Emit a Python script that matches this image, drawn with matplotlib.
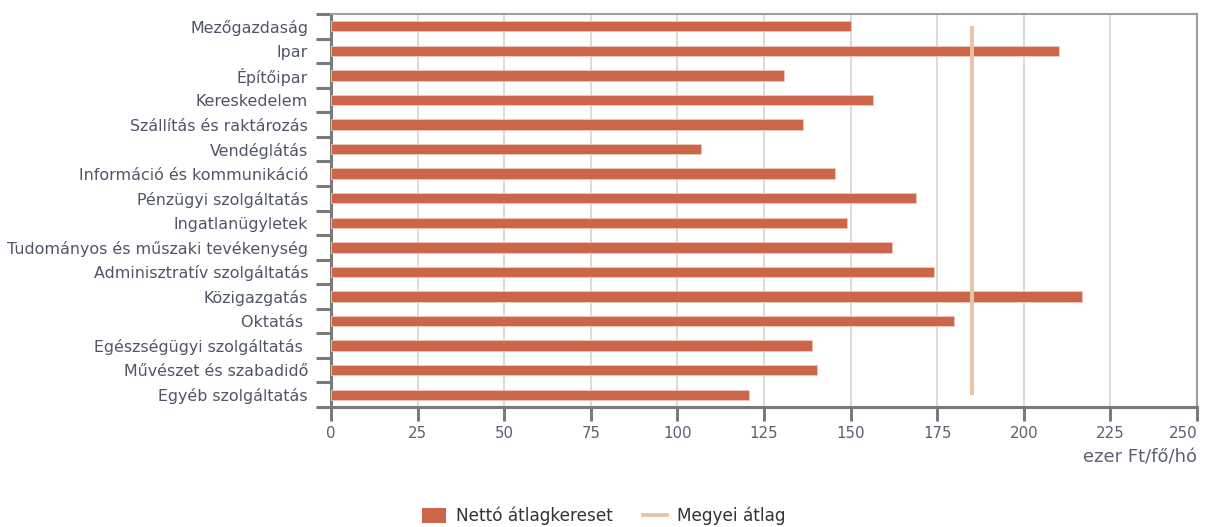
import matplotlib
matplotlib.use("Agg")
import matplotlib.pyplot as plt
from matplotlib.lines import Line2D
from matplotlib.patches import Patch
import numpy as np

categories = ["Mezőgazdaság", "Ipar", "Építőipar", "Kereskedelem",
              "Szállítás és raktározás", "Vendéglátás", "Információ és kommunikáció",
              "Pénzügyi szolgáltatás", "Ingatlanügyletek",
              "Tudományos és műszaki tevékenység", "Adminisztratív szolgáltatás",
              "Közigazgatás", "Oktatás ", "Egészségügyi szolgáltatás ",
              "Művészet és szabadidő", "Egyéb szolgáltatás"]
netto = [150.2, 210.3, 130.8, 156.4, 136.4, 106.7, 145.5, 169.0, 149.0,
         162.0, 174.0, 216.7, 179.8, 139.0, 140.2, 120.8]
megyei_atlag = 185.0
x_ticks = [0, 25, 50, 75, 100, 125, 150, 175, 200, 225, 250]

plt.rcParams['font.family'] = ['DejaVu Sans']
fig = plt.figure(figsize=(12.05, 5.27), dpi=100)
ax = fig.add_axes([331/1205, 1-407/527, (1197-331)/1205, (407-14)/527])

n = len(categories)
y = np.arange(n)
bar_color = "#CC6649"
avg_color = "#E6C3A5"
ax.barh(y, netto, height=0.42, color=bar_color, edgecolor="#f2c8bc", linewidth=0.6, zorder=3)
ax.plot([megyei_atlag, megyei_atlag], [0, n-1], color=avg_color, lw=2.8, zorder=4,
        solid_capstyle="butt")

ax.set_ylim(n-0.5, -0.5)
ax.set_xlim(0, 250)
ax.set_xticks(x_ticks)
ax.set_xticklabels([str(t) for t in x_ticks], color="#5a6070", fontsize=10.8)
ax.xaxis.get_majorticklabels()[-1].set_horizontalalignment('right')
ax.xaxis.get_majorticklabels()[-1].set_x(250)
ax.xaxis.grid(True, color="#dadada", lw=1.4, zorder=0)
ax.set_axisbelow(True)

ax.set_yticks(y)
ax.set_yticklabels(categories, color="#4f5566", fontsize=11.4)
ax.tick_params(axis='y', length=0, pad=16.5)
# minor ticks between categories on the left
ax.set_yticks(np.arange(-0.5, n, 1.0), minor=True)
ax.tick_params(axis='y', which='minor', length=11, width=2.2, color="#7a7a7a", direction='out')
ax.tick_params(axis='x', length=10, width=2.2, color="#7a7a7a", direction='out', pad=4)

for side in ['top', 'right']:
    ax.spines[side].set_color("#a0a0a0")
    ax.spines[side].set_linewidth(1.5)
ax.spines['left'].set_color("#7a7a7a")
ax.spines['left'].set_linewidth(2.2)
ax.spines['bottom'].set_color("#7a7a7a")
ax.spines['bottom'].set_linewidth(2.2)

fig.text(1197/1205, 1-458/527, "ezer Ft/fő/hó", ha="right", va="center",
         color="#5a6070", fontsize=13)

handles = [Patch(facecolor=bar_color, edgecolor="none"),
           Line2D([0], [0], color=avg_color, lw=2.8)]
fig.legend(handles, ["Nettó átlagkereset", "Megyei átlag"], loc="center",
           bbox_to_anchor=(604/1205, 1-516/527), ncol=2, frameon=False,
           fontsize=12.2, handlelength=1.4, handleheight=0.95, columnspacing=1.8,
           handletextpad=0.6, labelcolor="#333333")

fig.savefig("out.png", dpi=100)
